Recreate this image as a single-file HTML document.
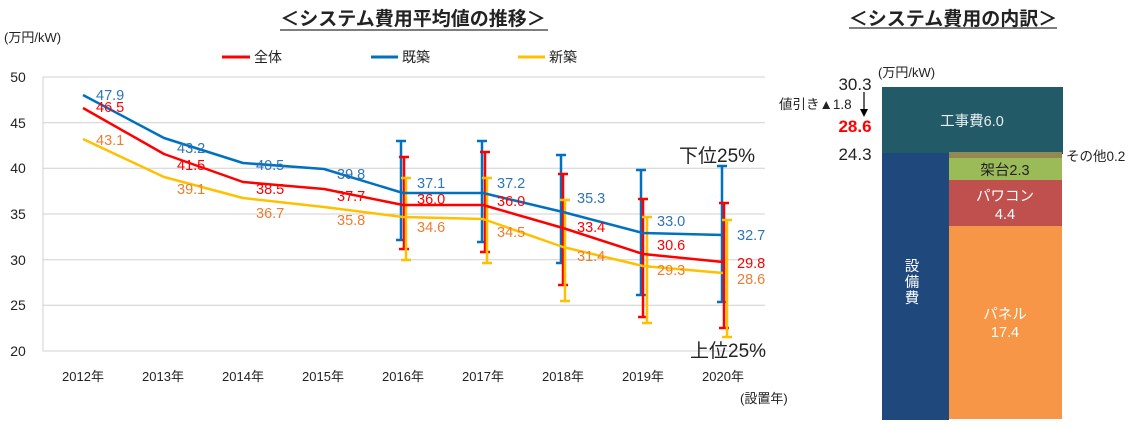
<!DOCTYPE html>
<html><head><meta charset="utf-8"><style>
html,body{margin:0;padding:0;background:#fff;width:1132px;height:427px;overflow:hidden}
svg text{font-family:"Liberation Sans","Noto Sans CJK JP",sans-serif}
</style></head><body>
<svg width="1132" height="427" viewBox="0 0 1132 427" xmlns="http://www.w3.org/2000/svg">
<text x="413" y="25" font-size="19" font-weight="bold" text-anchor="middle" fill="#222">＜システム費用平均値の推移＞</text>
<line x1="280" y1="30" x2="548" y2="30" stroke="#555" stroke-width="1.5"/>
<text x="953" y="25" font-size="19" font-weight="bold" text-anchor="middle" fill="#222">＜システム費用の内訳＞</text>
<line x1="849" y1="28" x2="1057" y2="28" stroke="#555" stroke-width="1.5"/>
<text x="4" y="42" font-size="13" fill="#222">(万円/kW)</text>
<line x1="222" y1="57" x2="250" y2="57" stroke="#ff0000" stroke-width="3"/><text x="254" y="62" font-size="14" fill="#222">全体</text>
<line x1="371" y1="57" x2="398" y2="57" stroke="#0070c0" stroke-width="3"/><text x="402" y="62" font-size="14" fill="#222">既築</text>
<line x1="518" y1="57" x2="545" y2="57" stroke="#ffc000" stroke-width="3"/><text x="549" y="62" font-size="14" fill="#222">新築</text>
<g stroke="#d0d0d0" stroke-width="1">
<line x1="43" y1="77" x2="765" y2="77"/><line x1="43" y1="122.7" x2="765" y2="122.7"/><line x1="43" y1="168.3" x2="765" y2="168.3"/><line x1="43" y1="214" x2="765" y2="214"/><line x1="43" y1="259.7" x2="765" y2="259.7"/><line x1="43" y1="305.3" x2="765" y2="305.3"/><line x1="43" y1="351" x2="765" y2="351"/><line x1="43" y1="77" x2="43" y2="351"/>
</g>
<g font-size="14" fill="#222" text-anchor="middle">
<text x="18" y="82">50</text><text x="18" y="128">45</text><text x="18" y="173">40</text><text x="18" y="219">35</text><text x="18" y="265">30</text><text x="18" y="310">25</text><text x="18" y="356">20</text>
</g>
<g font-size="13" fill="#222" text-anchor="middle">
<text x="83" y="381">2012年</text><text x="163" y="381">2013年</text><text x="243" y="381">2014年</text><text x="323" y="381">2015年</text><text x="403" y="381">2016年</text><text x="483" y="381">2017年</text><text x="563" y="381">2018年</text><text x="643" y="381">2019年</text><text x="723" y="381">2020年</text>
</g>
<text x="740" y="403" font-size="13" fill="#222">(設置年)</text>
<g stroke-width="2.5" fill="none">
<g stroke="#0070c0"><path d="M401 141V240M396 141h10M396 240h10M482 141V242M477 141h10M477 242h10M561 155V263M556 155h10M556 263h10M641 170V295M636 170h10M636 295h10M722 166V302M717 166h10M717 302h10"/></g>
<g stroke="#ff0000"><path d="M404 157V249M399 157h10M399 249h10M485 152V252M480 152h10M480 252h10M563 174V285M558 174h10M558 285h10M643 199V317M638 199h10M638 317h10M724 203V328M719 203h10M719 328h10"/></g>
<g stroke="#ffc000"><path d="M406 178V260M401 178h10M401 260h10M487 178V263M482 178h10M482 263h10M565 200V301M560 200h10M560 301h10M647 217V323M642 217h10M642 323h10M727 220V337M722 220h10M722 337h10"/></g>
</g>
<g fill="none" stroke-width="2.5" stroke-linejoin="round">
<polyline stroke="#0070c0" points="83,95 164,138 243,163 324,169 403,193 483,193 563,212 643,233 723,235"/>
<polyline stroke="#ff0000" points="83,108 164,154 243,182 324,189 403,205 483,205 563,228 643,254 723,262"/>
<polyline stroke="#ffc000" points="83,139 164,177 243,198 324,207 403,217 483,219 563,247 643,266 723,273"/>
</g>
<g font-size="14.5">
<g fill="#2e75b6"><text x="96" y="100">47.9</text><text x="177" y="153">43.2</text><text x="256" y="170">40.5</text><text x="337" y="179">39.8</text><text x="417" y="188">37.1</text><text x="497" y="188">37.2</text><text x="577" y="203">35.3</text><text x="657" y="226">33.0</text><text x="737" y="240">32.7</text></g>
<g fill="#ff0000"><text x="96" y="112">46.5</text><text x="177" y="170">41.5</text><text x="256" y="194">38.5</text><text x="337" y="201">37.7</text><text x="417" y="204">36.0</text><text x="497" y="206">36.0</text><text x="577" y="232">33.4</text><text x="657" y="250">30.6</text><text x="737" y="268">29.8</text></g>
<g fill="#ed7d31"><text x="96" y="145">43.1</text><text x="177" y="194">39.1</text><text x="256" y="218">36.7</text><text x="337" y="225">35.8</text><text x="417" y="232">34.6</text><text x="497" y="237">34.5</text><text x="577" y="261">31.4</text><text x="657" y="275">29.3</text><text x="737" y="284">28.6</text></g>
</g>
<text x="679" y="162" font-size="19" fill="#222">下位25%</text>
<text x="690" y="357" font-size="19" fill="#222">上位25%</text>
<text x="878" y="77" font-size="13" fill="#222">(万円/kW)</text>
<text x="855" y="90" font-size="17" fill="#222" text-anchor="middle">30.3</text>
<text x="779" y="109" font-size="13.5" fill="#222">値引き▲1.8</text>
<line x1="864" y1="92" x2="864" y2="112" stroke="#000" stroke-width="1.2"/><path d="M860 109 L864 117 L868 109Z" fill="#000"/>
<text x="855" y="132" font-size="17" font-weight="bold" fill="#ff0000" text-anchor="middle">28.6</text>
<text x="855" y="160" font-size="17" fill="#222" text-anchor="middle">24.3</text>
<rect x="882" y="87" width="181" height="67" fill="#225a68"/>
<rect x="882" y="153" width="67" height="267" fill="#1f497d"/>
<rect x="949" y="152" width="113" height="6" fill="#938953"/>
<rect x="949" y="158" width="113" height="22" fill="#9bbb59"/>
<rect x="949" y="180" width="113" height="46" fill="#c0504d"/>
<rect x="949" y="226" width="113" height="193" fill="#f79646"/>
<g font-size="14.5" text-anchor="middle">
<text x="972" y="126" fill="#e8eef0">工事費6.0</text>
<text x="1005" y="175" fill="#222">架台2.3</text>
<text x="1005" y="201" fill="#fff">パワコン</text><text x="1005" y="219" fill="#fff">4.4</text>
<text x="1005" y="319" fill="#fff">パネル</text><text x="1005" y="337" fill="#fff">17.4</text>
<text x="912" y="271" fill="#fff">設</text><text x="912" y="287" fill="#fff">備</text><text x="912" y="303" fill="#fff">費</text>
</g>
<text x="1066" y="161" font-size="13.5" fill="#222">その他0.2</text>
</svg>
</body></html>
